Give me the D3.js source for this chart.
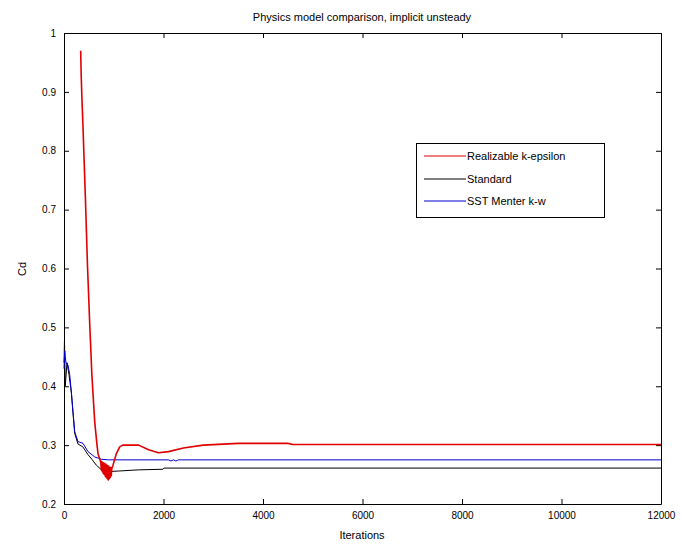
<!DOCTYPE html>
<html><head><meta charset="utf-8">
<script src="https://cdn.jsdelivr.net/npm/d3@7"></script>
<style>body{margin:0;background:#fff}svg{display:block}text{font-family:"Liberation Sans",Arial,sans-serif}</style>
</head><body><svg id="c" width="682" height="544"></svg>
<script>
const xTicks = [0,2000,4000,6000,8000,10000,12000];
const yTicks = [0.2,0.3,0.4,0.5,0.6,0.7,0.8,0.9,1];
const seriesNames = ["Realizable k-epsilon","Standard","SST Menter k-w"];
const seriesColors = ["#e00000","#000000","#0000d0"];
const realizableIter = [335,345,360,382,430,470,515,560,617,660,684,724,740,750,760,770,780,790,800,810,820,830,840,850,860,870,880,890,900,910,920,930,940,950,960,985,1050,1120,1180,1500,1700,1900,2100,2400,2800,3500,4500,4600,12000];
const realizableCd   = [0.97,0.93,0.89,0.84,0.72,0.61,0.51,0.42,0.34,0.303,0.285,0.275,0.27,0.258,0.272,0.255,0.27,0.252,0.27,0.25,0.268,0.247,0.268,0.245,0.266,0.243,0.265,0.241,0.264,0.243,0.262,0.245,0.262,0.248,0.26,0.266,0.285,0.297,0.30,0.30,0.292,0.287,0.289,0.295,0.300,0.303,0.303,0.301,0.301];
const standardIter = [0,10,25,60,100,150,180,215,280,380,480,560,650,780,850,1100,1500,1990,2010,12000];
const standardCd   = [0.44,0.478,0.40,0.44,0.42,0.388,0.355,0.32,0.302,0.297,0.284,0.276,0.266,0.256,0.255,0.256,0.258,0.259,0.261,0.261];
const sstIter = [0,15,26,40,80,115,147,181,215,281,382,482,617,750,900,2100,2150,2200,2250,2300,2370,12000];
const sstCd   = [0.43,0.46,0.45,0.44,0.436,0.42,0.39,0.357,0.323,0.306,0.303,0.289,0.28,0.276,0.275,0.275,0.273,0.275,0.273,0.275,0.275,0.275];

const svg = d3.select("#c");
const L=64,R=661,T=33,B=504;
const x = d3.scaleLinear().domain([0,12000]).range([L,R]);
const y = d3.scaleLinear().domain([0.2,1]).range([B,T]);
const fmtY = d => d===1?"1":d3.format(".1f")(d);

const ax = svg.append("g").attr("font-size",11);
ax.append("g").attr("transform",`translate(0,${B})`).call(d3.axisBottom(x).tickValues(xTicks).tickSizeInner(-5).tickSizeOuter(0).tickPadding(8).tickFormat(d3.format("d")));
ax.append("g").attr("transform",`translate(0,${T})`).call(d3.axisTop(x).tickValues(xTicks).tickSizeInner(-5).tickSizeOuter(0).tickFormat(""));
ax.append("g").attr("transform",`translate(${L},0)`).call(d3.axisLeft(y).tickValues(yTicks).tickSizeInner(-5).tickSizeOuter(0).tickPadding(8).tickFormat(fmtY));
ax.append("g").attr("transform",`translate(${R},0)`).call(d3.axisRight(y).tickValues(yTicks).tickSizeInner(-5).tickSizeOuter(0).tickFormat(""));
ax.selectAll(".domain").attr("stroke","#000");
ax.selectAll("text").attr("fill","#000").attr("font-family","Liberation Sans, Arial, sans-serif");

const line = d3.line().x(d=>x(d[0])).y(d=>y(d[1]));
const data = [
  d3.zip(realizableIter, realizableCd),
  d3.zip(standardIter, standardCd),
  d3.zip(sstIter, sstCd)
];
const widths=[1.6,1,1];
[1,2,0].forEach(i=>{
  svg.append("path").attr("d",line(data[i])).attr("fill","none").attr("stroke",seriesColors[i]).attr("stroke-width",widths[i]).attr("stroke-linejoin","round");
});

svg.append("text").attr("x",362).attr("y",21).attr("text-anchor","middle").attr("font-size",11).text("Physics model comparison, implicit unsteady");
svg.append("text").attr("x",362).attr("y",539).attr("text-anchor","middle").attr("font-size",11).text("Iterations");
svg.append("text").attr("transform","translate(26,269) rotate(-90)").attr("text-anchor","middle").attr("font-size",11).text("Cd");

const lg = svg.append("g");
lg.append("rect").attr("x",416.5).attr("y",143.5).attr("width",188).attr("height",74).attr("fill","#fff").attr("stroke","#000");
const rowsY=[156,179,201];
seriesNames.forEach((n,i)=>{
  lg.append("line").attr("x1",424).attr("x2",466).attr("y1",rowsY[i]).attr("y2",rowsY[i]).attr("stroke",seriesColors[i]).attr("stroke-width",1);
  lg.append("text").attr("x",467).attr("y",rowsY[i]+4).attr("font-size",11).text(n);
});
</script></body></html>
